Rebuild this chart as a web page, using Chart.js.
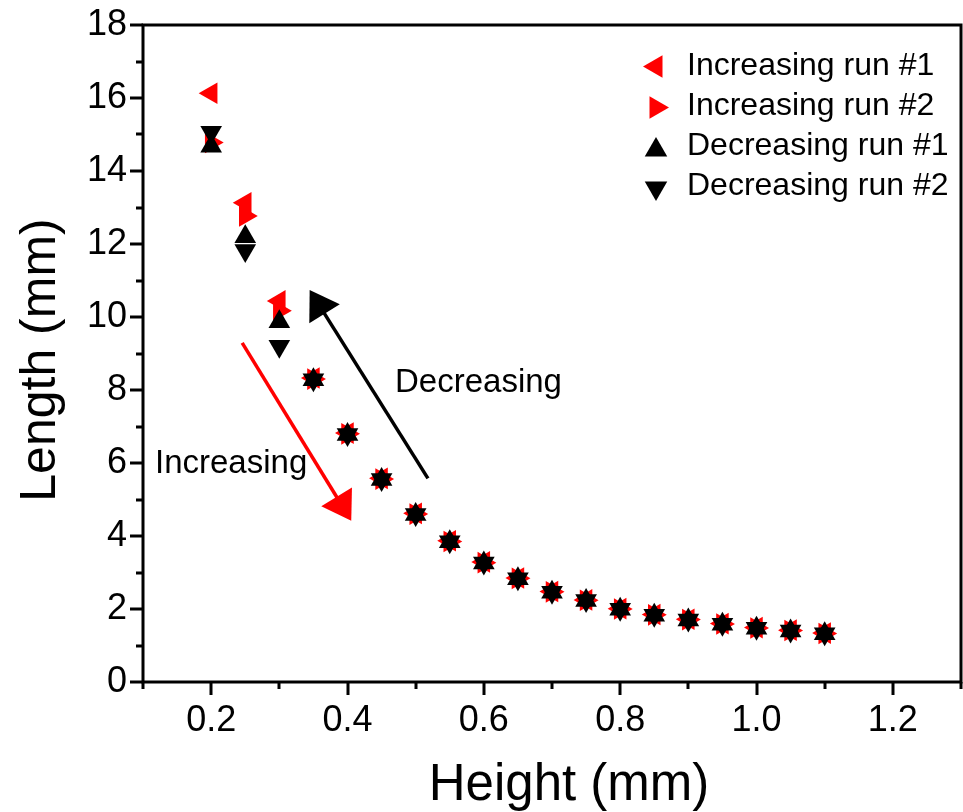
<!DOCTYPE html>
<html>
<head>
<meta charset="utf-8">
<script src="https://cdn.jsdelivr.net/npm/chart.js@4/dist/chart.umd.min.js"></script>
<style>
  html, body { margin: 0; padding: 0; background: #fff; }
  canvas { display: block; }
</style>
</head>
<body>
<canvas id="lengthChart" width="963" height="812"></canvas>
<script>
// heights (mm) where each run was measured
const heights = [0.2, 0.25, 0.3, 0.35, 0.4, 0.45, 0.5, 0.55, 0.6, 0.65, 0.7, 0.75, 0.8, 0.85, 0.9, 0.95, 1.0, 1.05, 1.1];

// lengths (mm)
const incRun1 = [16.13, 13.13, 10.44, 8.33, 6.82, 5.58, 4.62, 3.87, 3.29, 2.85, 2.48, 2.25, 2.01, 1.85, 1.72, 1.60, 1.49, 1.42, 1.34];
const incRun2 = [14.78, 12.77, 10.17, 8.30, 6.80, 5.56, 4.60, 3.85, 3.27, 2.84, 2.47, 2.24, 2.00, 1.84, 1.71, 1.59, 1.48, 1.41, 1.33];
const decRun1 = [14.68, 12.20, 9.87, 8.28, 6.78, 5.55, 4.59, 3.84, 3.26, 2.83, 2.46, 2.23, 1.99, 1.83, 1.70, 1.58, 1.47, 1.40, 1.32];
const decRun2 = [15.06, 11.82, 9.20, 8.28, 6.78, 5.55, 4.59, 3.84, 3.26, 2.83, 2.46, 2.23, 1.99, 1.83, 1.70, 1.58, 1.47, 1.40, 1.32];

const seriesNames = ['Increasing run #1', 'Increasing run #2', 'Decreasing run #1', 'Decreasing run #2'];

// tick labels
const xTickValues = [0.2, 0.4, 0.6, 0.8, 1.0, 1.2];
const yTickValues = [0, 2, 4, 6, 8, 10, 12, 14, 16, 18];

const FONT = '"Liberation Sans", Arial, sans-serif';

function toPoints(ys) {
    return heights.map((h, i) => ({ x: h, y: ys[i] }));
}

// little triangle helper, rotation in degrees like chart.js
function triangle(ctx, x, y, r, rotation, color) {
    let rad = rotation * Math.PI / 180;
    ctx.beginPath();
    for (let k = 0; k < 3; k++) {
        const px = x + Math.sin(rad) * r;
        const py = y - Math.cos(rad) * r;
        if (k === 0) ctx.moveTo(px, py); else ctx.lineTo(px, py);
        rad += 2 * Math.PI / 3;
    }
    ctx.closePath();
    ctx.fillStyle = color;
    ctx.fill();
}

function arrow(ctx, x1, y1, x2, y2, color) {
    const ang = Math.atan2(y2 - y1, x2 - x1);
    const headLen = 28, headHalf = 18;
    const bx = x2 - Math.cos(ang) * headLen;
    const by = y2 - Math.sin(ang) * headLen;
    ctx.strokeStyle = color;
    ctx.fillStyle = color;
    ctx.lineWidth = 3.5;
    ctx.beginPath();
    ctx.moveTo(x1, y1);
    ctx.lineTo(bx + Math.cos(ang) * 4, by + Math.sin(ang) * 4);
    ctx.stroke();
    ctx.beginPath();
    ctx.moveTo(x2, y2);
    ctx.lineTo(bx - Math.sin(ang) * headHalf, by + Math.cos(ang) * headHalf);
    ctx.lineTo(bx + Math.sin(ang) * headHalf, by - Math.cos(ang) * headHalf);
    ctx.closePath();
    ctx.fill();
}

// axis box with outward ticks (major + minor) and the axis titles
const framePlugin = {
    id: 'frame',
    afterDraw(chart) {
        const { ctx, chartArea: a, scales: { x, y } } = chart;
        ctx.save();
        ctx.strokeStyle = '#000';
        ctx.lineWidth = 3;
        ctx.lineCap = 'butt';
        ctx.strokeRect(a.left, a.top, a.right - a.left, a.bottom - a.top);
        ctx.beginPath();
        for (let v = 0; v <= 18; v++) {
            const py = Math.round(y.getPixelForValue(v));
            const len = v % 2 === 0 ? 13 : 7;
            ctx.moveTo(a.left, py);
            ctx.lineTo(a.left - len, py);
        }
        for (let k = 1; k <= 13; k++) {
            const px = Math.round(x.getPixelForValue(k / 10));
            const len = k % 2 === 0 ? 13 : 7;
            ctx.moveTo(px, a.bottom);
            ctx.lineTo(px, a.bottom + len);
        }
        ctx.stroke();

        ctx.fillStyle = '#000';
        ctx.font = '51px ' + FONT;
        ctx.textAlign = 'center';
        ctx.textBaseline = 'alphabetic';
        ctx.fillText('Height (mm)', 569, 800);

        ctx.translate(55, 360);
        ctx.rotate(-Math.PI / 2);
        ctx.font = '50px ' + FONT;
        ctx.fillText('Length (mm)', 0, 0);
        ctx.restore();
    }
};

// legend + annotation arrows and words
const notesPlugin = {
    id: 'notes',
    afterDatasetsDraw(chart) {
        const { ctx, scales: { x, y } } = chart;
        ctx.save();
        arrow(ctx, x.getPixelForValue(0.2455), y.getPixelForValue(9.29),
                   x.getPixelForValue(0.4055), y.getPixelForValue(4.42), '#ff0000');
        arrow(ctx, x.getPixelForValue(0.518), y.getPixelForValue(5.58),
                   x.getPixelForValue(0.3445), y.getPixelForValue(10.74), '#000');

        ctx.fillStyle = '#000';
        ctx.font = '33px ' + FONT;
        ctx.textBaseline = 'alphabetic';
        ctx.textAlign = 'left';
        ctx.fillText('Increasing', 155, 473);
        ctx.fillText('Decreasing', 395, 392);

        // legend
        const markerDy = [-8.5, -7.5, -5, -7];
        ctx.font = '32px ' + FONT;
        chart.data.datasets.forEach((ds, i) => {
            const baseY = 75 + i * 40;
            triangle(ctx, 656, baseY + markerDy[i], 13, ds.pointRotation, ds.backgroundColor);
            ctx.fillStyle = '#000';
            ctx.fillText(ds.label, 687, baseY);
        });
        ctx.restore();
    }
};

function noPadding(s) {
    s.paddingLeft = 0; s.paddingRight = 0; s.paddingTop = 0; s.paddingBottom = 0;
}

const ctx = document.getElementById('lengthChart').getContext('2d');

const lengthChart = new Chart(ctx, {
    type: 'scatter',
    data: {
        datasets: [
            { label: seriesNames[0], data: toPoints(incRun1), pointRotation: 270, backgroundColor: '#ff0000', borderColor: '#ff0000', order: 2 },
            { label: seriesNames[1], data: toPoints(incRun2), pointRotation: 90, backgroundColor: '#ff0000', borderColor: '#ff0000', order: 2 },
            { label: seriesNames[2], data: toPoints(decRun1), pointRotation: 0, backgroundColor: '#000000', borderColor: '#000000', order: 1 },
            { label: seriesNames[3], data: toPoints(decRun2), pointRotation: 180, backgroundColor: '#000000', borderColor: '#000000', order: 1 }
        ]
    },
    options: {
        responsive: false,
        animation: false,
        layout: { autoPadding: false, padding: { top: 25, right: 2, left: 0, bottom: 0 } },
        elements: {
            point: { pointStyle: 'triangle', radius: 12.5, hoverRadius: 12.5, borderWidth: 0 }
        },
        plugins: {
            legend: { display: false },
            tooltip: { enabled: false }
        },
        scales: {
            x: {
                type: 'linear',
                min: 0.1,
                max: 1.3,
                grid: { display: false },
                border: { display: false },
                afterBuildTicks: s => { s.ticks = xTickValues.map(v => ({ value: v })); },
                afterFit: s => { s.height = 130; noPadding(s); },
                ticks: {
                    color: '#000',
                    font: { family: FONT, size: 36 },
                    padding: 9,
                    maxRotation: 0,
                    callback: v => v.toFixed(1)
                }
            },
            y: {
                type: 'linear',
                min: 0,
                max: 18,
                grid: { display: false },
                border: { display: false },
                afterBuildTicks: s => { s.ticks = yTickValues.map(v => ({ value: v })); },
                afterFit: s => { s.width = 143; noPadding(s); },
                ticks: {
                    color: '#000',
                    font: { family: FONT, size: 36 },
                    padding: 8
                }
            }
        }
    },
    plugins: [framePlugin, notesPlugin]
});
</script>
</body>
</html>
